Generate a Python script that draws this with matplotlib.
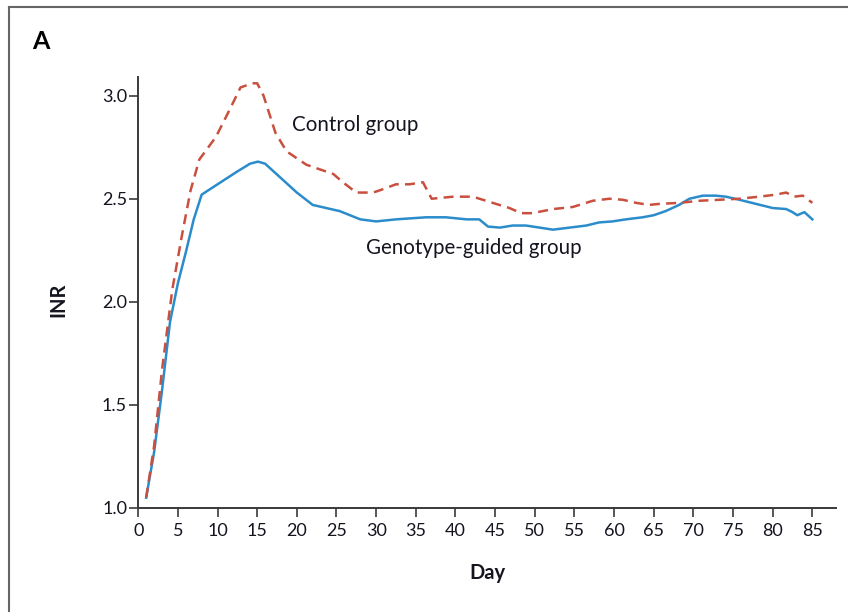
import matplotlib
matplotlib.use("Agg")
import matplotlib.pyplot as plt
from matplotlib.lines import Line2D

plt.rcParams["font.family"] = ["Lato", "DejaVu Sans"]

# INR readings (approximate)
genotype_days = [1, 2, 3, 4, 5, 6, 7, 8, 10, 12.4, 14.1, 15.1, 16, 18, 20, 22,
                 25.4, 28, 30, 32.5, 36.3, 38.8, 41.4, 43, 44.1, 45.6, 47.2,
                 48.9, 50.6, 52.3, 54.4, 56.5, 58.1, 59.8, 61.5, 63.6, 65,
                 66.5, 68.2, 69.5, 71.2, 72.8, 74.1, 75.8, 77.9, 80, 81.7,
                 82.5, 83.1, 84, 85]
genotype_inr = [1.05, 1.27, 1.57, 1.90, 2.09, 2.24, 2.40, 2.52, 2.57, 2.63,
                2.67, 2.68, 2.67, 2.60, 2.53, 2.47, 2.44, 2.40, 2.39, 2.40,
                2.41, 2.41, 2.40, 2.40, 2.365, 2.36, 2.37, 2.37, 2.36, 2.35,
                2.36, 2.37, 2.385, 2.39, 2.40, 2.41, 2.42, 2.44, 2.47, 2.50,
                2.515, 2.515, 2.51, 2.495, 2.475, 2.455, 2.45, 2.435, 2.42,
                2.435, 2.40]

control_days = [1, 2, 3, 4.3, 5.5, 6.6, 7.7, 9.8, 11.5, 12.9, 14.4, 15.0, 15.8,
                17.3, 18.7, 21.2, 24.6, 25.8, 27.5, 29.6, 30.4, 32.5, 34.2,
                35.9, 37.0, 39.7, 42.2, 44.7, 46.8, 48.3, 49.7, 52.3, 54.8,
                57.3, 59.4, 61.1, 62.8, 64.4, 65.7, 68.2, 70.7, 73.3, 75.8,
                78.3, 80.4, 81.7, 82.7, 83.8, 85]
control_inr = [1.05, 1.30, 1.67, 2.06, 2.32, 2.54, 2.69, 2.80, 2.93, 3.04,
               3.06, 3.06, 3.00, 2.82, 2.73, 2.665, 2.62, 2.58, 2.53, 2.53,
               2.54, 2.57, 2.57, 2.58, 2.50, 2.51, 2.51, 2.48, 2.455, 2.43,
               2.43, 2.45, 2.46, 2.49, 2.50, 2.495, 2.48, 2.47, 2.475, 2.48,
               2.49, 2.495, 2.50, 2.51, 2.52, 2.53, 2.51, 2.515, 2.48]

x_ticks = list(range(0, 90, 5))
y_ticks = [1.0, 1.5, 2.0, 2.5, 3.0]

blue = "#2b8ccb"
red = "#c9503f"
axis_col = "#3a3a3a"
text_col = "#151520"

fig = plt.figure(figsize=(8.48, 6.12), dpi=100)
ax = fig.add_axes([0.163, 0.170, 0.823, 0.704])

ax.plot(genotype_days, genotype_inr, color=blue, linewidth=1.8)
ax.plot(control_days, control_inr, color=red, linewidth=1.8,
        linestyle=(0, (4, 2.5)))

ax.set_xlim(0, 88)
ax.set_ylim(1.0, 3.09)
ax.set_xticks(x_ticks)
ax.set_yticks(y_ticks)
ax.set_yticklabels([f"{v:.1f}" for v in y_ticks])

for side in ["top", "right"]:
    ax.spines[side].set_visible(False)
for side in ["left", "bottom"]:
    ax.spines[side].set_color(axis_col)
    ax.spines[side].set_linewidth(1.4)
ax.tick_params(axis="both", direction="out", length=6.5, width=1.2,
               color=axis_col, labelsize=13, labelcolor=text_col)
ax.tick_params(axis="x", pad=4)
ax.tick_params(axis="y", pad=1.5)

fig.text(487 / 848, 1 - 573 / 612, "Day", fontsize=14.5, fontweight="bold",
         ha="center", va="center", color=text_col)
fig.text(58 / 848, 1 - 300 / 612, "INR", fontsize=14.5, fontweight="bold",
         ha="center", va="center", rotation=90, color=text_col)

ax.text(19.4, 2.86, "Control group", fontsize=14.8, color=text_col,
        va="center")
ax.text(28.7, 2.26, "Genotype-guided group", fontsize=14.8, color=text_col,
        va="center")

fig.text(0.038, 0.932, "A", fontsize=18, fontweight="bold", va="center")

# panel frame (top and left edges)
fig.add_artist(Line2D([9 / 848, 9 / 848], [0, 1 - 7 / 612],
                      transform=fig.transFigure, color="#666666", linewidth=1.5))
fig.add_artist(Line2D([9 / 848, 1], [1 - 7 / 612, 1 - 7 / 612],
                      transform=fig.transFigure, color="#666666", linewidth=1.5))

fig.savefig("out.png", dpi=100)
